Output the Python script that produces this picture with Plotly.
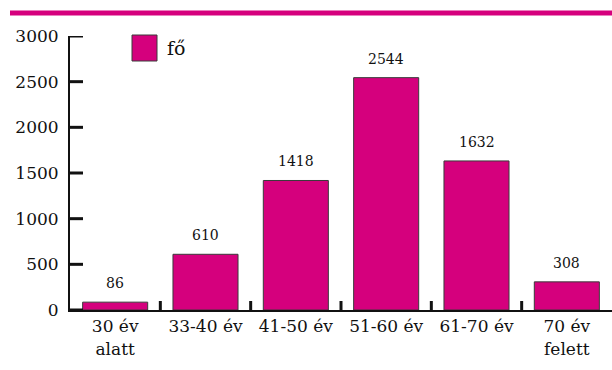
import plotly.graph_objects as go

categories = ["30 év<br>alatt", "33-40 év", "41-50 év", "51-60 év", "61-70 év", "70 év<br>felett"]
values = [86, 610, 1418, 2544, 1632, 308]
y_ticks = [0, 500, 1000, 1500, 2000, 2500, 3000]
series_name = "fő"

MAGENTA = "#D5007D"
FONT = "DejaVu Serif"
INK = "#111111"

n = len(categories)
x_lo, x_hi = -0.5, n - 0.5
ytick_len = 13 / 542 * (x_hi - x_lo)
xtick_len = 9 / 274 * 3000

fig = go.Figure()
fig.add_trace(go.Bar(
    x=list(range(n)), y=values, name=series_name,
    marker=dict(color=MAGENTA, line=dict(color="#3a3a3a", width=1)),
    width=0.72, showlegend=False,
))

tx, ty = [], []
for t in y_ticks:
    tx += [x_lo, x_lo + ytick_len, None]
    ty += [t, t, None]
for i in range(n - 1):
    tx += [i + 0.5, i + 0.5, None]
    ty += [0, xtick_len, None]
fig.add_trace(go.Scatter(x=tx, y=ty, mode="lines", line=dict(color=INK, width=3),
                         showlegend=False, hoverinfo="skip", cliponaxis=False,
                         connectgaps=False))

for i, v in enumerate(values):
    fig.add_annotation(x=i, y=v, text=str(v), showarrow=False, yanchor="bottom",
                       yshift=9, font=dict(family=FONT, size=14, color=INK))

fig.add_shape(type="rect", xref="paper", yref="paper",
              x0=(132-70)/542, x1=(157-70)/542, y0=(310-61)/274, y1=(310-35)/274,
              fillcolor=MAGENTA, line=dict(color="#3a3a3a", width=1))
fig.add_annotation(xref="paper", yref="paper", x=(165-70)/542, y=(310-48)/274,
                   text=series_name, showarrow=False, xanchor="left", yanchor="middle",
                   font=dict(family=FONT, size=19, color=INK))

fig.add_shape(type="line", xref="paper", yref="paper",
              x0=(10-70)/542, x1=1.0, y0=(310-13)/274, y1=(310-13)/274,
              line=dict(color=MAGENTA, width=5))

fig.update_layout(
    width=612, height=370,
    margin=dict(l=70, r=0, t=36, b=60),
    paper_bgcolor="white", plot_bgcolor="white",
    font=dict(family=FONT, size=17, color=INK),
    xaxis=dict(
        range=[x_lo, x_hi], showline=True, linecolor=INK, linewidth=2,
        tickmode="array", tickvals=list(range(n)), ticktext=categories,
        ticks="", showgrid=False, zeroline=False,
        tickfont=dict(family=FONT, size=17, color=INK),
    ),
    yaxis=dict(
        range=[0, 3000], tickmode="array", tickvals=y_ticks, showline=True,
        linecolor=INK, linewidth=2, ticks="",
        showgrid=False, zeroline=False, ticklabelstandoff=6,
        tickfont=dict(family=FONT, size=17, color=INK),
    ),
)

fig.write_html("out.html")
